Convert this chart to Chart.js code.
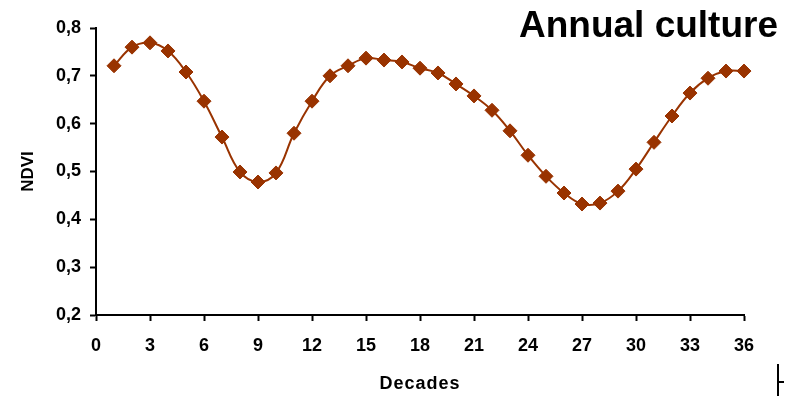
<!DOCTYPE html>
<html>
<head>
<meta charset="utf-8">
<script src="https://cdn.jsdelivr.net/npm/chart.js@4/dist/chart.umd.min.js"></script>
<style>
  html, body { margin: 0; padding: 0; background: #fff; }
  #wrap { width: 800px; height: 396px; }
</style>
</head>
<body>
<div id="wrap"><canvas id="myChart" width="800" height="396"></canvas></div>
<script>
// decades 1..36
const decades = [1, 2, 3, 4, 5, 6, 7, 8, 9, 10, 11, 12, 13, 14, 15, 16, 17, 18,
    19, 20, 21, 22, 23, 24, 25, 26, 27, 28, 29, 30, 31, 32, 33, 34, 35, 36];
const ndvi = [0.721, 0.760, 0.769, 0.752, 0.708, 0.647, 0.572, 0.499, 0.478, 0.497, 0.580, 0.647,
    0.700, 0.721, 0.737, 0.733, 0.729, 0.716, 0.706, 0.683, 0.658, 0.628, 0.585, 0.534,
    0.490, 0.455, 0.432, 0.434, 0.459, 0.505, 0.561, 0.616, 0.664, 0.695, 0.710, 0.710];
const xTicks = [0, 3, 6, 9, 12, 15, 18, 21, 24, 27, 30, 33, 36];
const yTicks = [0.2, 0.3, 0.4, 0.5, 0.6, 0.7, 0.8];

const chartTitle = 'Annual culture';
const xTitle = 'Decades';
const yTitle = 'NDVI';

const ctx = document.getElementById('myChart').getContext('2d');
const lineColor = '#993300';

// titles are drawn by hand so they can sit where the original has them
const textPlugin = {
    id: 'texts',
    afterDraw(chart) {
        const c = chart.ctx;
        const area = chart.chartArea;
        c.save();
        c.fillStyle = '#000';
        c.font = 'bold 37px "Liberation Sans", Arial, sans-serif';
        c.textAlign = 'right';
        c.textBaseline = 'alphabetic';
        c.fillText(chartTitle, 778, 37);

        c.font = 'bold 18px "Liberation Sans", Arial, sans-serif';
        c.textAlign = 'center';
        c.textBaseline = 'middle';
        c.letterSpacing = '1px';
        c.fillText(xTitle, (area.left + area.right) / 2, 384);
        c.letterSpacing = '0px';

        c.translate(28, (area.top + area.bottom) / 2);
        c.rotate(-Math.PI / 2);
        c.font = 'bold 17px "Liberation Sans", Arial, sans-serif';
        c.fillText(yTitle, 0, 0);
        c.restore();

        // small stray mark in the corner of the original
        c.save();
        c.strokeStyle = '#000';
        c.lineWidth = 2;
        c.beginPath();
        c.moveTo(778, 364);
        c.lineTo(778, 396);
        c.moveTo(778, 382);
        c.lineTo(784, 382);
        c.stroke();
        c.restore();
    }
};

const config = {
    type: 'line',
    data: {
        datasets: [{
            label: yTitle,
            data: decades.map((d, i) => ({ x: d, y: ndvi[i] })),
            borderColor: lineColor,
            backgroundColor: lineColor,
            borderWidth: 2,
            tension: 0.4,
            pointStyle: 'rectRot',
            pointRadius: 7,
            pointBorderWidth: 1,
            pointBackgroundColor: lineColor,
            pointBorderColor: lineColor,
            fill: false,
            clip: false
        }]
    },
    options: {
        responsive: false,
        animation: false,
        layout: { padding: { top: 28, right: 56, left: 0, bottom: 0 } },
        plugins: {
            legend: { display: false },
            tooltip: { enabled: false }
        },
        scales: {
            x: {
                type: 'linear',
                min: 0,
                max: 36,
                afterBuildTicks: (s) => { s.ticks = xTicks.map(v => ({ value: v })); },
                afterFit: (s) => { s.height = 81; },
                grid: { drawOnChartArea: false, color: '#000', tickLength: 6, tickWidth: 2 },
                border: { color: '#000', width: 2 },
                ticks: {
                    color: '#000',
                    padding: 14,
                    maxRotation: 0,
                    font: { family: '"Liberation Sans", Arial, sans-serif', size: 18, weight: 'bold' }
                }
            },
            y: {
                min: 0.2,
                max: 0.8,
                afterBuildTicks: (s) => { s.ticks = yTicks.map(v => ({ value: v })); },
                afterFit: (s) => { s.width = 96; },
                grid: { drawOnChartArea: false, color: '#000', tickLength: 6, tickWidth: 2 },
                border: { color: '#000', width: 2 },
                ticks: {
                    color: '#000',
                    padding: 9,
                    callback: (v) => v.toFixed(1).replace('.', ','),
                    font: { family: '"Liberation Sans", Arial, sans-serif', size: 18, weight: 'bold' }
                }
            }
        }
    },
    plugins: [textPlugin]
};

new Chart(ctx, config);
</script>
</body>
</html>
